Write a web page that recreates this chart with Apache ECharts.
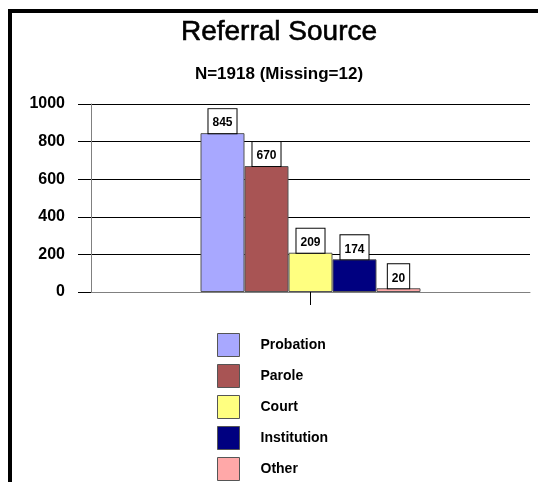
<!DOCTYPE html>
<html>
<head>
<meta charset="utf-8">
<script src="https://cdn.jsdelivr.net/npm/echarts@6/dist/echarts.min.js"></script>
<style>
  html, body { margin: 0; padding: 0; background: #fff; }
  #main { width: 538px; height: 482px; }
</style>
</head>
<body>
<div id="main"></div>
<script>
// referral sources and counts (N=1918, missing=12)
var sources = ['Probation', 'Parole', 'Court', 'Institution', 'Other']
var counts = [845, 670, 209, 174, 20]
var colors = ['#a8a8ff', '#a85454', '#ffff80', '#000080', '#ffa8a8']
var yTicks = [0, 200, 400, 600, 800, 1000]

var font = 'Liberation Sans, Arial, sans-serif'

var series = []
for (var i = 0; i < sources.length; i++) {
    series.push({
        name: sources[i],
        type: 'bar',
        barWidth: 44,
        barGap: 0,
        itemStyle: {
            color: colors[i],
            borderColor: '#555',
            borderWidth: 1
        },
        label: {
            show: true,
            position: 'top',
            distance: 0,
            color: '#000',
            fontFamily: font,
            fontWeight: 'bold',
            fontSize: 12,
            lineHeight: 12,
            backgroundColor: '#fff',
            borderColor: '#000',
            borderWidth: 1,
            padding: [8, 4, 4, 4]
        },
        data: [counts[i]]
    })
}

var chart = echarts.init(document.getElementById('main'))
chart.setOption({
    animation: false,
    backgroundColor: '#fff',
    title: [{
        text: 'Referral Source',
        left: 279,
        top: 18,
        textAlign: 'center',
        padding: 0,
        textStyle: {
            fontFamily: font, fontSize: 28, fontWeight: 'normal', color: '#000',
            textBorderColor: '#000', textBorderWidth: 0.6
        }
    }, {
        text: 'N=1918 (Missing=12)',
        left: 279,
        top: 66,
        textAlign: 'center',
        padding: 0,
        textStyle: { fontFamily: font, fontSize: 17, fontWeight: 'bold', color: '#000' }
    }],
    legend: {
        orient: 'vertical',
        left: 217,
        top: 333,
        height: 160,
        padding: 0,
        itemWidth: 22,
        itemHeight: 23,
        itemGap: 7,
        icon: 'rect',
        itemStyle: { borderColor: '#555', borderWidth: 1 },
        textStyle: {
            fontFamily: font, fontSize: 14, fontWeight: 'bold', color: '#000',
            padding: [0, 0, 0, 16]
        },
        data: sources
    },
    grid: { left: 91, right: 8, top: 104, bottom: 190 },
    xAxis: {
        type: 'category',
        data: [''],
        axisLine: { lineStyle: { color: '#808080', width: 1 } },
        axisTick: { show: true, alignWithLabel: true, length: 13, lineStyle: { color: '#000' } },
        axisLabel: { show: false }
    },
    yAxis: {
        type: 'value',
        min: yTicks[0],
        max: yTicks[yTicks.length - 1],
        interval: 200,
        axisLine: { show: true, lineStyle: { color: '#808080', width: 1 } },
        axisTick: { show: true, length: 13, lineStyle: { color: '#000' } },
        axisLabel: {
            margin: 26, fontFamily: font, fontSize: 16, fontWeight: 'bold', color: '#000',
            formatter: function (v) { return String(v) }
        },
        splitLine: { lineStyle: { color: '#000', width: 1 } }
    },
    graphic: [
        { type: 'rect', shape: { x: 8, y: 9, width: 4, height: 473 }, style: { fill: '#000' } },
        { type: 'rect', shape: { x: 8, y: 9, width: 530, height: 4 }, style: { fill: '#000' } }
    ],
    series: series
})
</script>
</body>
</html>
